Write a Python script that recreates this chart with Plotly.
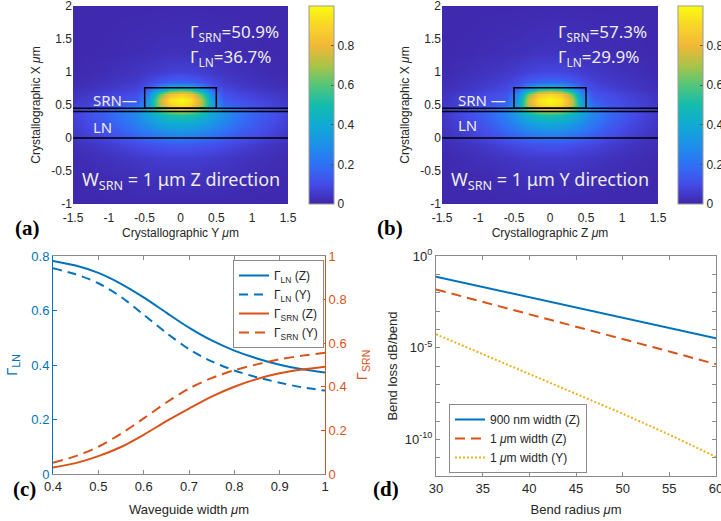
import plotly.graph_objects as go

W, H = 721, 521
def PX(p): return p / W
def PY(p): return 1 - p / H

# ---------------- data ----------------
# mode-profile grid (panels a, b): values (left half incl. centre, mirrored)
grid_x = [-1.5, -1.1, -0.8, -0.6, -0.45, -0.3, -0.15, 0, 0.15, 0.3, 0.45, 0.6, 0.8, 1.1, 1.5]
grid_y = [-1, -0.6, -0.3, -0.1, 0.05, 0.2, 0.35, 0.43, 0.5, 0.58, 0.66, 0.74, 0.85, 1.0, 1.3, 2.0]
half_a = [
    [.01, .01, .01, .01, .01, .01, .01, .01],
    [.01, .015, .02, .025, .028, .03, .032, .032],
    [.015, .028, .04, .05, .055, .06, .065, .065],
    [.025, .05, .075, .095, .11, .12, .13, .135],
    [.045, .095, .135, .175, .205, .235, .255, .265],
    [.06, .125, .185, .245, .295, .345, .38, .39],
    [.07, .145, .215, .295, .375, .455, .51, .53],
    [.07, .145, .215, .295, .40, .57, .71, .76],
    [.055, .10, .14, .18, .35, .68, .89, .95],
    [.045, .08, .11, .14, .31, .70, .94, 1.0],
    [.035, .065, .09, .11, .25, .58, .82, .88],
    [.025, .045, .065, .085, .14, .33, .47, .52],
    [.015, .03, .045, .06, .085, .12, .15, .16],
    [.01, .02, .03, .04, .05, .06, .07, .075],
    [.01, .012, .016, .02, .022, .026, .03, .03],
    [.01, .01, .01, .01, .01, .01, .01, .01],
]
half_b = [
    [.01, .01, .01, .01, .01, .01, .01, .01],
    [.01, .012, .015, .02, .022, .025, .027, .027],
    [.012, .022, .032, .042, .048, .053, .056, .056],
    [.018, .038, .06, .08, .095, .105, .115, .12],
    [.03, .068, .11, .15, .18, .21, .23, .24],
    [.04, .09, .15, .21, .27, .32, .36, .37],
    [.045, .11, .18, .26, .35, .44, .50, .52],
    [.045, .11, .18, .27, .40, .59, .72, .76],
    [.045, .09, .13, .18, .37, .72, .91, .96],
    [.04, .08, .11, .15, .33, .74, .95, 1.0],
    [.035, .07, .10, .12, .27, .62, .85, .90],
    [.025, .05, .075, .095, .16, .35, .49, .54],
    [.018, .04, .055, .075, .10, .14, .17, .18],
    [.012, .028, .04, .05, .06, .075, .085, .09],
    [.01, .014, .02, .024, .027, .032, .036, .037],
    [.01, .01, .01, .01, .01, .01, .01, .01],
]
field_a = [r + r[-2::-1] for r in half_a]
field_b = [r + r[-2::-1] for r in half_b]

layer_lines_y = [0, 0.4, 0.45]          # LN / buffer interfaces
srn_box = dict(x0=-0.5, x1=0.5, y0=0.45, y1=0.76)

# panel c
width_um = [0.4, 0.45, 0.5, 0.55, 0.6, 0.65, 0.7, 0.75, 0.8, 0.85, 0.9, 0.95, 1.0]
gamma_ln_z = [0.782, 0.765, 0.738, 0.698, 0.648, 0.592, 0.537, 0.490, 0.453, 0.424, 0.401, 0.384, 0.372]
gamma_ln_y = [0.755, 0.733, 0.700, 0.650, 0.585, 0.518, 0.458, 0.413, 0.380, 0.355, 0.335, 0.318, 0.306]
gamma_srn_z = [0.030, 0.050, 0.082, 0.124, 0.180, 0.242, 0.300, 0.355, 0.400, 0.436, 0.462, 0.479, 0.492]
gamma_srn_y = [0.052, 0.082, 0.125, 0.185, 0.255, 0.328, 0.392, 0.440, 0.476, 0.503, 0.526, 0.543, 0.556]

# panel d
radius_um = [30, 35, 40, 45, 50, 55, 60]
loss_900_z = [7.4e-2, 2.04e-2, 5.75e-3, 1.58e-3, 4.27e-4, 1.17e-4, 3.24e-5]
loss_1um_z = [1.5e-2, 3.2e-3, 6.8e-4, 1.4e-4, 3.0e-5, 6.2e-6, 1.26e-6]
loss_1um_y = [5.4e-5, 4.5e-6, 3.7e-7, 3.2e-8, 2.5e-9, 1.8e-10, 1.1e-11]

parula = [
    [0.0, 'rgb(62,38,168)'], [0.1, 'rgb(69,75,232)'], [0.2, 'rgb(47,113,246)'],
    [0.3, 'rgb(29,145,232)'], [0.4, 'rgb(16,170,212)'], [0.5, 'rgb(19,188,173)'],
    [0.6, 'rgb(83,198,121)'], [0.7, 'rgb(170,196,72)'], [0.8, 'rgb(242,184,55)'],
    [0.9, 'rgb(249,212,40)'], [1.0, 'rgb(249,251,14)'],
]
BLUE, ORANGE, YELLOW = '#0072BD', '#D95319', '#EDB120'
TXT = '#262626'
FONT = 'Liberation Sans, Arial, sans-serif'

fig = go.Figure()

def cbar(xpx):
    return dict(x=PX(xpx), xanchor='left', xpad=0, thickness=25, lenmode='pixels', len=198,
                y=PY(105), yanchor='middle', ypad=0, tickvals=[0, 0.2, 0.4, 0.6, 0.8],
                ticktext=['0', '0.2', '0.4', '0.6', '0.8'], ticks='inside', ticklen=3,
                tickcolor='#555', outlinecolor='#999', outlinewidth=1,
                tickfont=dict(size=12, color=TXT, family=FONT))

fig.add_trace(go.Heatmap(x=grid_x, y=grid_y, z=field_a, zmin=0, zmax=1, colorscale=parula,
                         zsmooth='best', xaxis='x', yaxis='y', colorbar=cbar(309), hoverinfo='skip'))
fig.add_trace(go.Heatmap(x=grid_x, y=grid_y, z=field_b, zmin=0, zmax=1, colorscale=parula,
                         zsmooth='best', xaxis='x2', yaxis='y2', colorbar=cbar(678), hoverinfo='skip'))

# panel c traces
SPL = dict(shape='spline', smoothing=0.8)
fig.add_trace(go.Scatter(x=width_um, y=gamma_ln_z, mode='lines', line=dict(color=BLUE, width=2, **SPL),
                         name='Γ<sub>LN</sub> (Z)', xaxis='x3', yaxis='y3', legend='legend'))
fig.add_trace(go.Scatter(x=width_um, y=gamma_ln_y, mode='lines', line=dict(color=BLUE, width=2, dash='9px,6px', **SPL),
                         name='Γ<sub>LN</sub> (Y)', xaxis='x3', yaxis='y3', legend='legend'))
fig.add_trace(go.Scatter(x=width_um, y=gamma_srn_z, mode='lines', line=dict(color=ORANGE, width=2, **SPL),
                         name='Γ<sub>SRN</sub> (Z)', xaxis='x3', yaxis='y4', legend='legend'))
fig.add_trace(go.Scatter(x=width_um, y=gamma_srn_y, mode='lines', line=dict(color=ORANGE, width=2, dash='10px,6px', **SPL),
                         name='Γ<sub>SRN</sub> (Y)', xaxis='x3', yaxis='y4', legend='legend'))

# panel d traces
fig.add_trace(go.Scatter(x=radius_um, y=loss_900_z, mode='lines', line=dict(color=BLUE, width=2),
                         name='900 nm width (Z)', xaxis='x4', yaxis='y5', legend='legend2'))
fig.add_trace(go.Scatter(x=radius_um, y=loss_1um_z, mode='lines', line=dict(color=ORANGE, width=2, dash='10px,6px'),
                         name='1 <i>μ</i>m width (Z)', xaxis='x4', yaxis='y5', legend='legend2'))
fig.add_trace(go.Scatter(x=radius_um, y=loss_1um_y, mode='lines', line=dict(color=YELLOW, width=2, dash='2px,2px'),
                         name='1 <i>μ</i>m width (Y)', xaxis='x4', yaxis='y5', legend='legend2'))

tf_top = dict(size=12, color=TXT, family=FONT)
tf_bot = dict(size=13, color=TXT, family=FONT)

def hm_x(domain, title):
    return dict(domain=domain, range=[-1.5, 1.5], tickvals=[-1.5, -1, -0.5, 0, 0.5, 1, 1.5],
                ticktext=['-1.5', '-1', '-0.5', '0', '0.5', '1', '1.5'], ticks='', showgrid=False,
                zeroline=False, showline=False, tickfont=tf_top, automargin=False,
                ticklabelstandoff=5, ticklabeloverflow='allow',
                title=dict(text=title, font=tf_top, standoff=4))

def hm_y(domain, anchor):
    return dict(domain=domain, anchor=anchor, range=[-1, 2], tickvals=[-1, -0.5, 0, 0.5, 1, 1.5, 2],
                ticktext=['-1', '-0.5', '0', '0.5', '1', '1.5', '2'], ticks='', showgrid=False,
                zeroline=False, showline=False, tickfont=tf_top, automargin=False,
                ticklabeloverflow='allow',
                title=dict(text='Crystallographic X <i>μ</i>m', font=tf_top, standoff=8))

GRAY = '#8a8a8a'
common_box = dict(showline=True, linecolor=GRAY, linewidth=1, ticks='inside', ticklen=4,
                  tickcolor=GRAY, showgrid=False, zeroline=False, automargin=False,
                  ticklabeloverflow='allow')

fig.update_layout(
    width=W, height=H, margin=dict(l=0, r=0, t=0, b=0, autoexpand=False),
    paper_bgcolor='white', plot_bgcolor='white', font=dict(family=FONT, color=TXT),
    xaxis=dict(hm_x([PX(73), PX(288)], 'Crystallographic Y <i>μ</i>m'), anchor='y'),
    yaxis=hm_y([PY(204), PY(6)], 'x'),
    xaxis2=dict(hm_x([PX(442), PX(658)], 'Crystallographic Z <i>μ</i>m'), anchor='y2'),
    yaxis2=hm_y([PY(204), PY(6)], 'x2'),
    xaxis3=dict(common_box, domain=[PX(53), PX(325)], anchor='y3', range=[0.4, 1],
                tickvals=[0.4, 0.5, 0.6, 0.7, 0.8, 0.9, 1.0],
                ticktext=['0.4', '0.5', '0.6', '0.7', '0.8', '0.9', '1'],
                mirror='ticks', tickfont=tf_bot,
                title=dict(text='Waveguide width <i>μ</i>m', font=tf_bot, standoff=12)),
    yaxis3=dict(common_box, domain=[PY(474), PY(256)], anchor='x3', range=[0, 0.8],
                tickvals=[0, 0.2, 0.4, 0.6, 0.8], ticktext=['0', '0.2', '0.4', '0.6', '0.8'],
                linecolor=BLUE, tickcolor=BLUE, tickfont=dict(size=13, color=BLUE, family=FONT),
                title=dict(text='Γ<sub>LN</sub>', font=dict(size=15, color=BLUE, family=FONT), standoff=10)),
    yaxis4=dict(common_box, overlaying='y3', side='right', anchor='x3', range=[0, 1],
                tickvals=[0, 0.2, 0.4, 0.6, 0.8, 1], ticktext=['0', '0.2', '0.4', '0.6', '0.8', '1'],
                linecolor=ORANGE, tickcolor=ORANGE, tickfont=dict(size=13, color=ORANGE, family=FONT),
                title=dict(text='Γ<sub>SRN</sub>', font=dict(size=15, color=ORANGE, family=FONT), standoff=10)),
    xaxis4=dict(common_box, domain=[PX(436), PX(716)], anchor='y5', range=[30, 60],
                tickvals=[30, 35, 40, 45, 50, 55, 60], mirror='ticks', tickfont=tf_bot,
                title=dict(text='Bend radius <i>μ</i>m', font=tf_bot, standoff=10)),
    yaxis5=dict(common_box, domain=[PY(476), PY(256)], anchor='x4', type='log', range=[-12, 0],
                tickvals=[10.0 ** (-k) for k in range(0, 13)],
                ticktext=['10<sup>0</sup>', '', '', '', '', '10<sup>-5</sup>', '', '', '', '',
                          '10<sup>-10</sup>', '', ''],
                mirror='ticks', tickfont=tf_bot,
                title=dict(text='Bend loss dB/bend', font=tf_bot, standoff=4)),
    legend=dict(x=PX(233), y=PY(260), xanchor='left', yanchor='top', bgcolor='white',
                bordercolor=GRAY, borderwidth=1, font=dict(size=12, color=TXT, family=FONT),
                itemwidth=30, tracegroupgap=0),
    legend2=dict(x=PX(449), y=PY(404), xanchor='left', yanchor='top', bgcolor='white',
                 bordercolor=GRAY, borderwidth=1, font=dict(size=12, color=TXT, family=FONT),
                 itemwidth=30, tracegroupgap=0),
)

# structure outlines on the mode-profile panels
for xr, yr in (('x', 'y'), ('x2', 'y2')):
    for yl in layer_lines_y:
        fig.add_shape(type='line', xref=xr, yref=yr, x0=-1.5, x1=1.5, y0=yl, y1=yl,
                      line=dict(color='black', width=1.5))
    fig.add_shape(type='rect', xref=xr, yref=yr, line=dict(color='black', width=1.5), **srn_box)

WHITE = '#ececec'
AF = 'Noto Sans, Open Sans, sans-serif'
def note(text, xpx, ypx, size, xanchor='left', color=WHITE, family=AF):
    fig.add_annotation(text=text, x=PX(xpx), y=PY(ypx), xref='paper', yref='paper',
                       xanchor=xanchor, yanchor='middle', showarrow=False,
                       font=dict(size=size, color=color, family=family))

# panel a texts
note('Γ<sub>SRN</sub>=50.9%', 188, 33, 17)
note('Γ<sub>LN</sub>=36.7%', 188, 57, 17)
note('SRN—', 91, 100, 15)
note('LN', 91, 127, 15)
note('W<sub>SRN</sub> = 1 μm Z direction', 80, 180, 18)
# panel b texts
note('Γ<sub>SRN</sub>=57.3%', 556, 33, 17)
note('Γ<sub>LN</sub>=29.9%', 556, 57, 17)
note('SRN —', 456, 100, 15)
note('LN', 456, 125, 15)
note('W<sub>SRN</sub> = 1 μm Y direction', 449, 180, 18)

# panel letters
LF = 'Liberation Serif, Times New Roman, serif'
for lab, xp, yp in (('(a)', 28, 228), ('(b)', 390, 228), ('(c)', 24, 489), ('(d)', 386, 489)):
    fig.add_annotation(text='<b>' + lab + '</b>', x=PX(xp), y=PY(yp), xref='paper', yref='paper',
                       xanchor='center', yanchor='middle', showarrow=False,
                       font=dict(size=21, color='black', family=LF))

fig.write_html('out.html')
